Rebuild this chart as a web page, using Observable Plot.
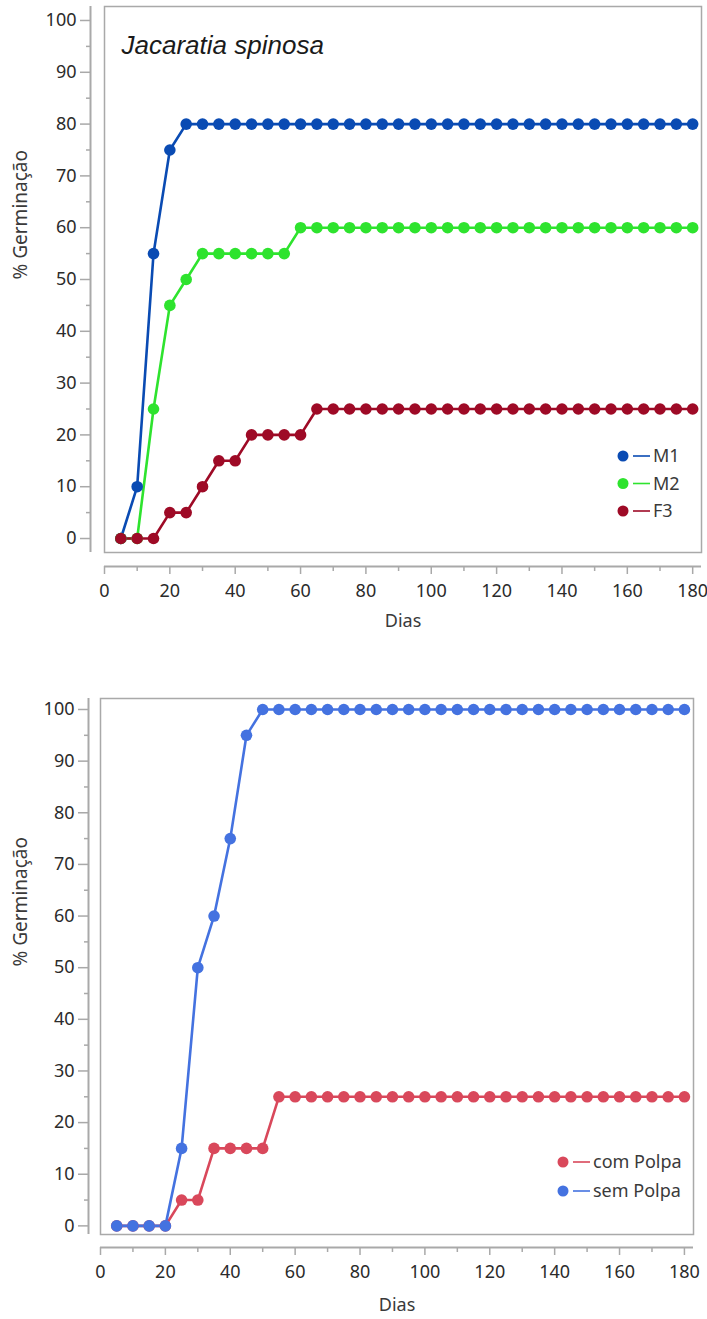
<!DOCTYPE html>
<html><head><meta charset="utf-8">
<script src="https://cdn.jsdelivr.net/npm/d3@7"></script>
<script src="https://cdn.jsdelivr.net/npm/@observablehq/plot@0.6"></script>
<style>
body{margin:0;background:#fff;}
#wrap{position:relative;width:707px;height:1319px;overflow:hidden;}
#wrap svg{display:block;}
.leg{position:absolute;left:0;top:0;}
</style></head><body><div id="wrap"></div>
<script>
// ---- data ----
const dias = [5,10,15,20,25,30,35,40,45,50,55,60,65,70,75,80,85,90,95,100,105,110,115,120,125,130,135,140,145,150,155,160,165,170,175,180];

const seriesTop = ["M1","M2","F3"];
const colorsTop = ["#0a4bb3","#2ee32e","#9e0a26"];
const M1 = [0,10,55,75,80,80,80,80,80,80,80,80,80,80,80,80,80,80,80,80,80,80,80,80,80,80,80,80,80,80,80,80,80,80,80,80];
const M2 = [0,0,25,45,50,55,55,55,55,55,55,60,60,60,60,60,60,60,60,60,60,60,60,60,60,60,60,60,60,60,60,60,60,60,60,60];
const F3 = [0,0,0,5,5,10,15,15,20,20,20,20,25,25,25,25,25,25,25,25,25,25,25,25,25,25,25,25,25,25,25,25,25,25,25,25];

const seriesBot = ["com Polpa","sem Polpa"];
const colorsBot = ["#d9485b","#4472e0"];
const comPolpa = [0,0,0,0,5,5,15,15,15,15,25,25,25,25,25,25,25,25,25,25,25,25,25,25,25,25,25,25,25,25,25,25,25,25,25,25];
const semPolpa = [0,0,0,0,15,50,60,75,95,100,100,100,100,100,100,100,100,100,100,100,100,100,100,100,100,100,100,100,100,100,100,100,100,100,100,100];

const xTicks = [0,20,40,60,80,100,120,140,160,180];
const xMinor = [10,30,50,70,90,110,130,150,170];
const yTicks = [0,10,20,30,40,50,60,70,80,90,100];
const yMinor = [5,15,25,35,45,55,65,75,85,95];

const titleTop = "Jacaratia spinosa";
const yLabel = "% Germinação";
const xLabel = "Dias";

// ---- build ----
const GRAY = "#a9a9a9";
const TXT = "#2b2b2b";

function rows(names, arrays) {
  const out = [];
  names.forEach((n, k) => arrays[k].forEach((v, i) => out.push({serie: n, dia: dias[i], pct: v})));
  return out;
}

function panel(o) {
  const data = rows(o.names, o.arrays);
  const marks = [
    Plot.frame({stroke: GRAY, strokeWidth: 1.5}),
    Plot.ruleX([o.xDomain[0]], {dx: -o.gapY, stroke: GRAY, strokeWidth: 2}),
    Plot.ruleY([o.yDomain[0]], {dy: o.gapX, stroke: GRAY, strokeWidth: 2}),
    Plot.axisY({ticks: yTicks, tickSize: 10, dx: -o.gapY, tickPadding: 4, stroke: GRAY, fill: TXT, label: null, strokeWidth: 1.5}),
    Plot.axisY({ticks: yMinor, tickSize: 4, dx: -o.gapY, text: null, stroke: GRAY, label: null, strokeWidth: 1.5}),
    Plot.axisX({ticks: xTicks, tickSize: 8, dy: o.gapX, tickPadding: 10, stroke: GRAY, fill: TXT, label: null, strokeWidth: 1.5}),
    Plot.axisX({ticks: xMinor, tickSize: 5, dy: o.gapX, text: null, stroke: GRAY, label: null, strokeWidth: 1.5}),
    Plot.text([yLabel], {text: d => d, frameAnchor: "left", dx: o.yLabelDx, rotate: -90, fontSize: 19, fill: "#3a3a3a"}),
    Plot.text([xLabel], {text: d => d, frameAnchor: "bottom", dy: o.xLabelDy, fontSize: 18, fill: "#3a3a3a"})
  ];
  if (o.title) marks.push(Plot.text([o.title], {text: d => d, frameAnchor: "top-left", textAnchor: "start", dx: 17, dy: 29, fontSize: 26, fontStyle: "italic", fontFamily: "Liberation Sans, Arial, sans-serif", fill: "#1a1a1a"}));
  for (const n of o.names) {
    marks.push(Plot.line(data.filter(d => d.serie === n), {x: "dia", y: "pct", stroke: "serie", strokeWidth: 2.6}));
  }
  for (const n of o.names) {
    marks.push(Plot.dot(data.filter(d => d.serie === n), {x: "dia", y: "pct", fill: "serie", r: 5.8}));
  }
  return Plot.plot({
    width: 707, height: o.height,
    marginLeft: o.ml, marginRight: o.mr, marginTop: o.mt, marginBottom: o.mb,
    style: {fontFamily: "Noto Sans", fontSize: "18px", color: TXT, background: "#fff"},
    x: {domain: o.xDomain, axis: null},
    y: {domain: o.yDomain, axis: null},
    color: {domain: o.names, range: o.colors},
    marks
  });
}

function legend(names, colors, left, top, step) {
  const svg = d3.create("svg").attr("class", "leg").attr("width", 707).attr("height", 1319)
    .style("position", "absolute").style("left", "0px").style("top", "0px").style("pointer-events", "none");
  names.forEach((n, i) => {
    const y = top + i * step;
    svg.append("circle").attr("cx", left).attr("cy", y).attr("r", 5.5).attr("fill", colors[i]);
    svg.append("line").attr("x1", left + 10).attr("x2", left + 27).attr("y1", y).attr("y2", y).attr("stroke", colors[i]).attr("stroke-width", 1.6);
    svg.append("text").attr("x", left + 30).attr("y", y).attr("dy", "0.35em").attr("fill", "#3a3a3a")
      .style("font-family", "Noto Sans").style("font-size", "18px").text(n);
  });
  return svg.node();
}

const wrap = document.getElementById("wrap");
wrap.append(panel({
  names: seriesTop, arrays: [M1, M2, F3], colors: colorsTop,
  height: 640, ml: 104, mr: 6, mt: 6, mb: 88,
  xDomain: [0, 182.7], yDomain: [-2.7, 102.7],
  gapX: 14, gapY: 14, yLabelDx: -84, xLabelDy: 74, title: titleTop
}));
wrap.append(panel({
  names: seriesBot, arrays: [comPolpa, semPolpa], colors: colorsBot,
  height: 679, ml: 100, mr: 14, mt: 58, mb: 85,
  xDomain: [0, 182.8], yDomain: [-1.67, 102.13],
  gapX: 13, gapY: 12, yLabelDx: -80, xLabelDy: 76, title: null
}));
wrap.append(legend(seriesTop, colorsTop, 623, 456, 27.5));
wrap.append(legend(seriesBot, colorsBot, 563, 1162, 29));
</script></body></html>
